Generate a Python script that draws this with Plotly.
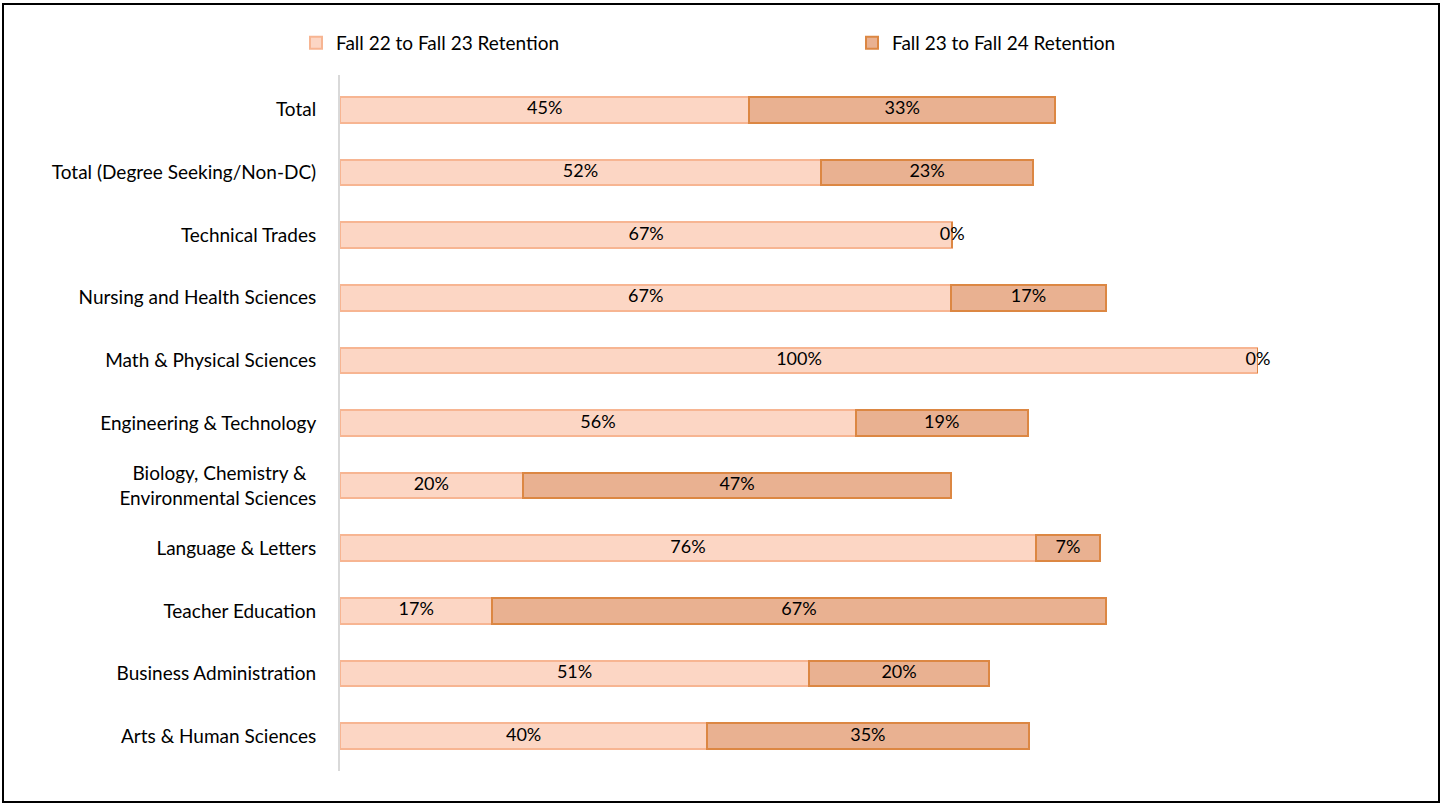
import plotly.graph_objects as go

categories = ["Total", "Total (Degree Seeking/Non-DC)", "Technical Trades",
              "Nursing and Health Sciences", "Math & Physical Sciences",
              "Engineering & Technology",
              "Biology, Chemistry &\u00a0\u00a0<br>Environmental Sciences",
              "Language & Letters", "Teacher Education", "Business Administration",
              "Arts & Human Sciences"]
fall22_23 = [44.6, 52.4, 66.7, 66.6, 100.0, 56.2, 19.9, 75.8, 16.6, 51.1, 40.0]
fall23_24 = [33.3, 23.1, 0.0, 16.8, 0.0, 18.7, 46.7, 7.0, 66.8, 19.6, 35.0]
series_names = ["Fall 22 to Fall 23 Retention", "Fall 23 to Fall 24 Retention"]

W, H = 1442, 804
ML, MR, MT, MB = 340, 184, 75, 33
PW, PH = W - ML - MR, H - MT - MB
FONT = "Lato"
FS = 19

fig = go.Figure()
fig.add_trace(go.Bar(y=categories, x=fall22_23, orientation="h", name=series_names[0],
                     marker=dict(color="#FCD6C4", line=dict(color="#F7B592", width=2))))
fig.add_trace(go.Bar(y=categories, x=fall23_24, orientation="h", name=series_names[1],
                     marker=dict(color="#E9B191", line=dict(color="#DC8743", width=2))))

# data labels at segment centers
x1 = [a / 2 for a in fall22_23]
x2 = [a + b / 2 for a, b in zip(fall22_23, fall23_24)]
fig.add_trace(go.Scatter(y=categories, x=x1, mode="text", showlegend=False, hoverinfo="skip",
                         cliponaxis=False, text=[f"{v:.0f}%" for v in fall22_23],
                         textfont=dict(family=FONT, size=FS - 1, color="#000000")))
fig.add_trace(go.Scatter(y=categories, x=x2, mode="text", showlegend=False, hoverinfo="skip",
                         cliponaxis=False, text=[f"{v:.0f}%" for v in fall23_24],
                         textfont=dict(family=FONT, size=FS - 1, color="#000000")))

fig.update_layout(
    width=W, height=H, barmode="stack", bargap=0.59,
    margin=dict(l=ML, r=MR, t=MT, b=MB, autoexpand=False),
    plot_bgcolor="white", paper_bgcolor="white",
    font=dict(family=FONT, size=FS, color="#000000"),
    xaxis=dict(range=[0, 100], visible=False, fixedrange=True),
    yaxis=dict(autorange="reversed", showline=True, linecolor="#D9D9D9", linewidth=2,
               ticks="", ticklabelstandoff=18, showgrid=False, zeroline=False,
               tickfont=dict(family=FONT, size=FS, color="#000000")),
    legend=dict(orientation="h", x=(296 - ML) / PW, xanchor="left", y=1 + (MT - 24) / PH,
                yanchor="top", entrywidth=511, font=dict(family=FONT, size=FS),
                itemsizing="constant", traceorder="normal"),
    showlegend=True,
    shapes=[dict(type="rect", xref="paper", yref="paper",
                 x0=(3 - ML) / PW, x1=(1439 - ML) / PW,
                 y0=1 + (MT - 4) / PH, y1=-(802 - (H - MB)) / PH,
                 line=dict(color="#000000", width=2), fillcolor="rgba(0,0,0,0)")],
)

fig.write_html("out.html", config={"displayModeBar": False},
               post_script="document.body.style.margin='0';")
